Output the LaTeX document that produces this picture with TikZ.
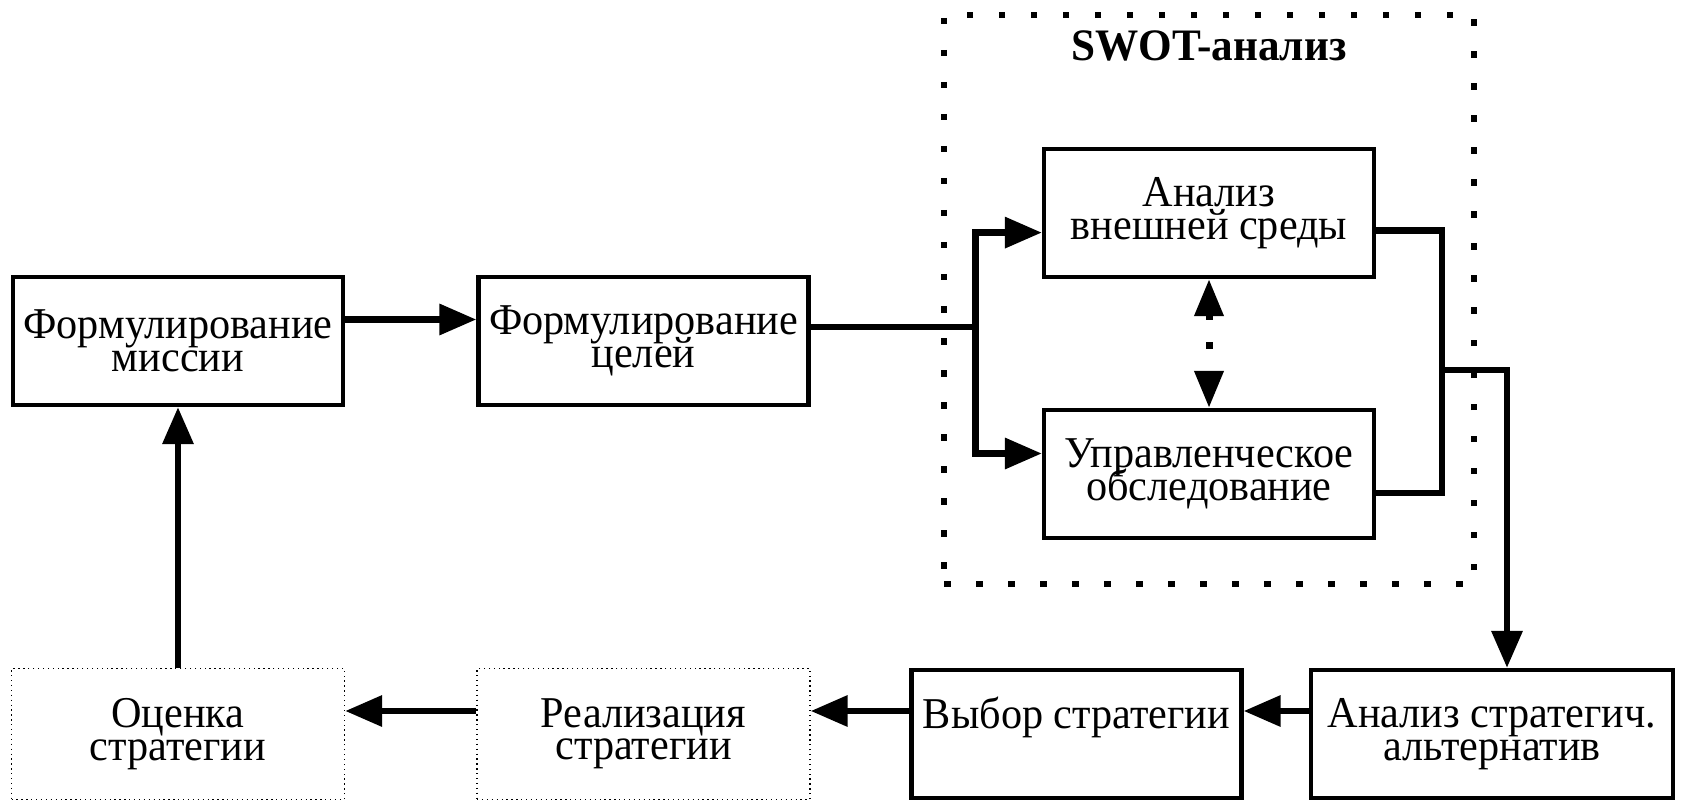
\documentclass[tikz,border=0pt]{standalone}
\usepackage{fontspec}
\setmainfont{Liberation Serif}[FakeStretch=0.96]
\usetikzlibrary{arrows.meta}
% tight two-line labels: fixed baseline distance, no lineskip fallback
\newcommand\stagefont{\fontsize{44}{32.5}\selectfont\setlength{\lineskiplimit}{-50pt}}
\begin{document}
\begin{tikzpicture}[x=1pt,y=-1pt,
  boxtext/.style={align=center,font=\stagefont},
  stage/.style={boxtext,draw,line width=4.3pt,minimum width=330pt,minimum height=128pt,inner sep=0pt},
  later/.style={boxtext,draw,line width=1.3pt,dash pattern=on 1.3pt off 3.6pt,minimum width=333pt,minimum height=131pt,inner sep=0pt},
  link/.style={line width=6.5pt},
  flow/.style={link,-{Triangle[length=37pt,width=30pt]}},
  mutual/.style={line width=7pt,{Triangle[length=37pt,width=28pt]}-{Triangle[length=37pt,width=28pt]},dash pattern=on 6pt off 22pt on 7pt off 40pt}
]
\useasboundingbox (0,0) rectangle (1681,802);

% SWOT frame
\node[draw,line width=6.5pt,dash pattern=on 6.5pt off 25.5pt,minimum width=530pt,minimum height=569pt,inner sep=0pt] (swot) at (1209,299.5) {};
\node[font=\fontsize{45}{45}\selectfont\bfseries] (swottitle) at (1209,46) {SWOT-анализ};

% stages
\node[stage] (mis) at (178,341) {Формулирование\\миссии};
\node[stage] (goal) at (643.5,341) {Формулирование\\целей};
\node[stage] (ext) at (1209,213) {Анализ\\внешней среды};
\node[stage] (aud) at (1209,474) {Управленческое\\обследование};
\node[stage,minimum width=362pt] (alt) at (1492,734) {Анализ стратегич.\\альтернатив};
\node[stage] (sel) at (1076.5,734) {Выбор стратегии\\\strut};
\node[later] (impl) at (643.5,734) {Реализация\\стратегии};
\node[later] (eval) at (178,734) {Оценка\\стратегии};

% junctions
\coordinate (split) at (975.5,327);
\coordinate (merge) at (1442,370);

% connectors
\draw[flow] ([yshift=21.5pt]mis.east) -- ([yshift=21.5pt]goal.west);
\draw[link] ([yshift=14pt]goal.east) -- (split);
\draw[flow] (split) |- ([yshift=-19.6pt]ext.west);
\draw[flow] (split) |- ([yshift=20.5pt]aud.west);
\draw[link] ([yshift=-17.5pt]ext.east) -| (merge);
\draw[link] ([yshift=-19pt]aud.east) -| (merge);
\draw[flow] (merge) -| ([xshift=15pt]alt.north);
\draw[mutual] (ext.south) -- (aud.north);
\draw[flow] ([yshift=23pt]alt.west) -- ([yshift=23pt]sel.east);
\draw[flow] ([yshift=23pt]sel.west) -- ([yshift=23pt]impl.east);
\draw[flow] ([yshift=23pt]impl.west) -- ([yshift=23pt]eval.east);
\draw[flow] (eval.north) -- (mis.south);
\end{tikzpicture}
\end{document}
